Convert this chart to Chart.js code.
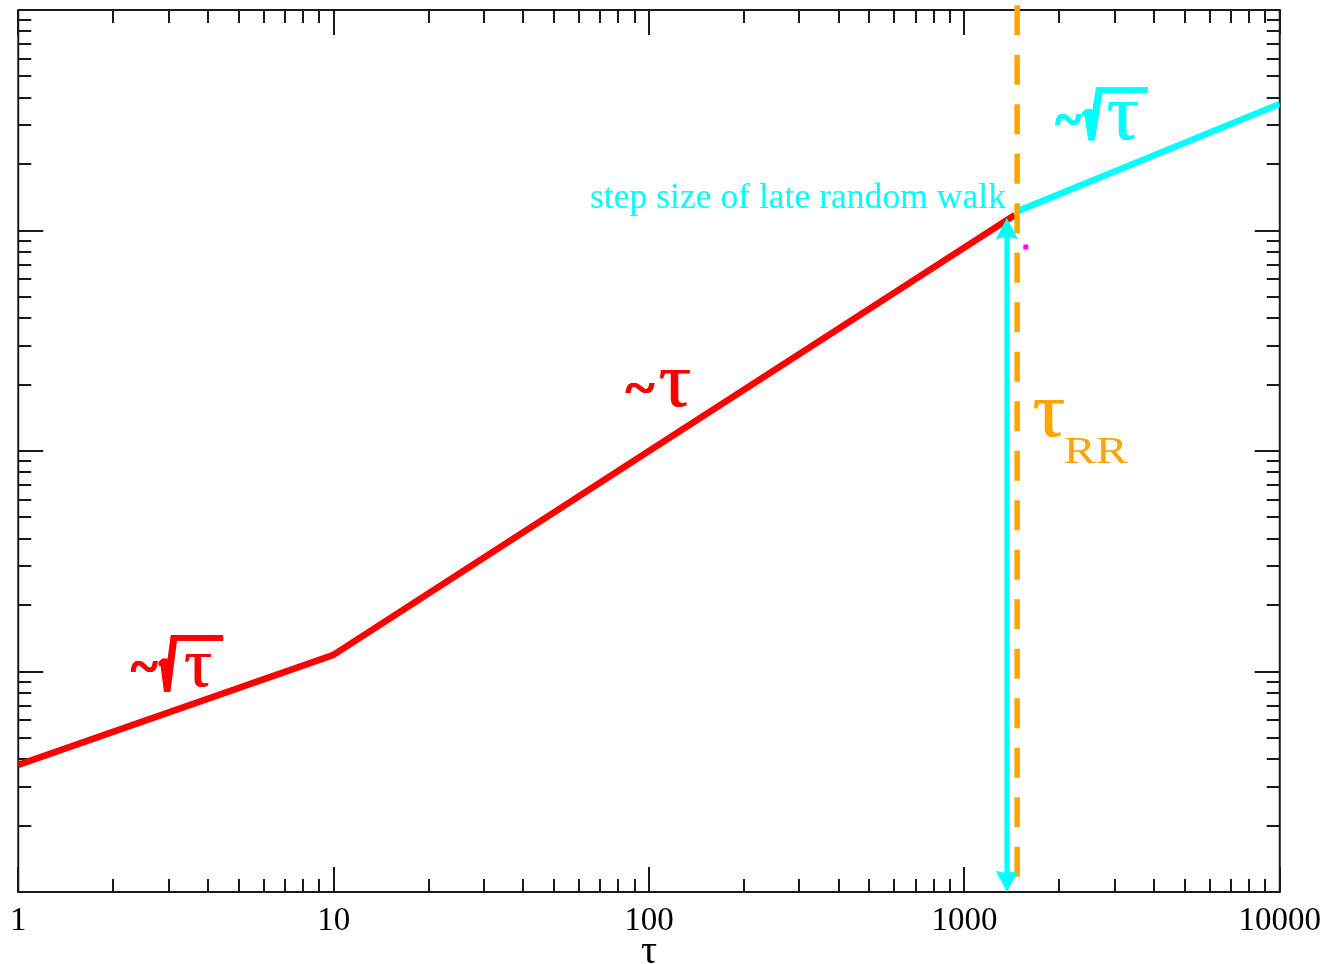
<!DOCTYPE html>
<html>
<head>
<meta charset="utf-8">
<script src="https://cdn.jsdelivr.net/npm/chart.js@4/dist/chart.umd.min.js"></script>
<style>
  html, body { margin: 0; padding: 0; background: #ffffff; }
  #wrap { width: 1331px; height: 964px; }
</style>
</head>
<body>
<div id="wrap"><canvas id="c" width="1331" height="964"></canvas></div>
<script>
// Early regime: ~sqrt(tau) up to tau = 10, then ~tau up to tau_RR
const earlyTau   = [1, 10, 100, 1445];
const earlyValue = [0.0377, 0.119, 1.0, 11.75];

// Late random walk: ~sqrt(tau) again
const lateTau   = [1479, 10000];
const lateValue = [12.25, 37.5];

// Crossover time tau_RR (dashed marker) and its vertical extent
const tauRR     = [1470, 1470];
const tauRRSpan = [105, 0.0117];

// Step size of the late random walk (double arrow)
const stepTau  = [1364, 1364];
const stepSpan = [11.4, 0.01];

// Single marker point
const markTau   = [1566];
const markValue = [8.41];

// Axis ticks
const xTickValues = [1, 10, 100, 1000, 10000];
const xTickLabels = ['1', '10', '100', '1000', '10000'];
const yDecades    = [0.01, 0.1, 1, 10, 100];
const axisTitle   = 'τ';

// Label texts and their anchors (tau, value) at the left end of the baseline
const labelTexts  = ['~√τ', '~τ', '~√τ', 'step size of late random walk', 'τRR'];
const labelTau    = [2.265, 83.9, 1936, 65.0, 1660];
const labelValue  = [0.0851, 1.58, 25.7, 12.6, 1.157];
const labelColors = ['#ff0000', '#ff0000', '#00ffff', '#00ffff', '#ffa500'];

const SERIF = '"Liberation Serif", "Times New Roman", serif';
const SANS  = '"DejaVu Sans", sans-serif';

// Glyph boxes for each label, in px relative to its anchor:
// [text, dx, dy, w, h, weight, family, extra horizontal weight in px]
const glyphLayouts = [
  [['~', 0, -26, 28, 11, 'bold', SERIF, 1.5], ['√', 28, -52, 20, 57, 'bold', SANS, 5],
   ['τ', 55, -33, 26, 33, '', SERIF, 1], ['bar', 45, -52, 48, 6]],
  [['~', 0, -24, 30, 10, 'bold', SERIF, 1.5], ['τ', 35, -37, 30, 37, '', SERIF, 1]],
  [['~', 0, -26, 27, 11, 'bold', SERIF, 1.5], ['√', 27, -53, 22, 53, 'bold', SANS, 5],
   ['τ', 53, -38, 30, 38, '', SERIF, 1], ['bar', 46, -53, 47, 6]],
  null,
  [['τ', 0, -37, 30, 37, '', SERIF, 1], ['RR', 31, 1, 63, 25, '', SERIF, 0]]
];

function pairs(xs, ys) { return xs.map((v, i) => ({ x: v, y: ys[i] })); }

function minorTicks(decades) {
  const out = [];
  for (let i = 0; i < decades.length; i++) {
    out.push({ v: decades[i], major: true });
    if (i < decades.length - 1) {
      for (let m = 2; m <= 9; m++) out.push({ v: decades[i] * m, major: false });
    }
  }
  return out;
}

// draws a glyph run stretched so that its ink fills the given box;
// 'heavy' widens the strokes by repeating the glyph shifted sideways
function glyphBox(ctx, text, left, top, w, h, weight, family, heavy) {
  ctx.font = (weight || '') + ' 100px ' + family;
  const m = ctx.measureText(text);
  const gw = (m.actualBoundingBoxLeft + m.actualBoundingBoxRight) || 50;
  const gh = (m.actualBoundingBoxAscent + m.actualBoundingBoxDescent) || 50;
  const extra = heavy || 0;
  const steps = Math.max(1, Math.ceil(extra * 2));
  for (let k = 0; k <= (extra ? steps : 0); k++) {
    ctx.save();
    ctx.translate(left + (extra ? extra * k / steps : 0), top);
    ctx.scale((w - extra) / gw, h / gh);
    ctx.fillText(text, m.actualBoundingBoxLeft, m.actualBoundingBoxAscent);
    ctx.restore();
  }
}

// Boxed frame with inward ticks on all four sides
const framePlugin = {
  id: 'frame',
  beforeDatasetsDraw(chart) {
    const { ctx, chartArea: a, scales: { x, y } } = chart;
    ctx.save();
    ctx.strokeStyle = '#1a1a1a';
    ctx.lineWidth = 2;
    ctx.beginPath();
    minorTicks(xTickValues).forEach(t => {
      const px = Math.round(x.getPixelForValue(t.v));
      const L = t.major ? 25 : 13;
      ctx.moveTo(px, a.bottom); ctx.lineTo(px, a.bottom - L);
      ctx.moveTo(px, a.top); ctx.lineTo(px, a.top + L);
    });
    minorTicks(yDecades).forEach(t => {
      const py = Math.round(y.getPixelForValue(t.v));
      const L = t.major ? 25 : 13;
      ctx.moveTo(a.left, py); ctx.lineTo(a.left + L, py);
      ctx.moveTo(a.right, py); ctx.lineTo(a.right - L, py);
    });
    ctx.stroke();
    ctx.strokeRect(a.left, a.top, a.right - a.left, a.bottom - a.top);
    ctx.restore();
  }
};

// Double-headed arrow for the step size
const arrowPlugin = {
  id: 'arrow',
  afterDatasetsDraw(chart) {
    const { ctx, scales: { x, y } } = chart;
    const px = x.getPixelForValue(stepTau[0]);
    const top = y.getPixelForValue(stepSpan[0]);
    const bot = y.getPixelForValue(stepSpan[1]);
    const headL = 21, headW = 11, notch = 2;
    ctx.save();
    ctx.strokeStyle = '#00ffff';
    ctx.fillStyle = '#00ffff';
    ctx.lineWidth = 5;
    ctx.beginPath();
    ctx.moveTo(px, top + headL - 2);
    ctx.lineTo(px, bot - headL + 2);
    ctx.stroke();
    [[top, 1], [bot, -1]].forEach(([tip, d]) => {
      ctx.beginPath();
      ctx.moveTo(px, tip);
      ctx.lineTo(px + headW, tip + d * headL);
      ctx.lineTo(px, tip + d * (headL - notch));
      ctx.lineTo(px - headW, tip + d * headL);
      ctx.closePath();
      ctx.fill();
    });
    ctx.restore();
  }
};

// Scaling-law and crossover labels
const labelsPlugin = {
  id: 'labels',
  afterDraw(chart) {
    const { ctx, scales: { x, y } } = chart;
    ctx.save();
    ctx.textBaseline = 'alphabetic';
    ctx.textAlign = 'left';
    labelTexts.forEach((text, i) => {
      const px = x.getPixelForValue(labelTau[i]);
      const py = y.getPixelForValue(labelValue[i]);
      ctx.fillStyle = labelColors[i];
      const parts = glyphLayouts[i];
      if (!parts) {
        ctx.font = '35.6px ' + SERIF;
        ctx.fillText(text, px, py);
        return;
      }
      parts.forEach(([g, dx, dy, w, h, weight, family, heavy]) => {
        if (g === 'bar') ctx.fillRect(px + dx, py + dy, w, h);
        else glyphBox(ctx, g, px + dx, py + dy, w, h, weight, family, heavy);
      });
    });
    ctx.restore();
  }
};

new Chart(document.getElementById('c'), {
  type: 'line',
  data: {
    datasets: [
      { label: 'early', data: pairs(earlyTau, earlyValue), borderColor: '#ff0000', borderWidth: 6.5,
        pointRadius: 0, tension: 0, order: 4, borderJoinStyle: 'round' },
      { label: 'late', data: pairs(lateTau, lateValue), borderColor: '#00ffff', borderWidth: 6.5,
        pointRadius: 0, tension: 0, order: 3 },
      { label: 'tauRR', data: pairs(tauRR, tauRRSpan), borderColor: '#ffa500', borderWidth: 5.5,
        borderDash: [30, 19.5], borderCapStyle: 'butt', pointRadius: 0, clip: false, order: 2 },
      { label: 'mark', data: pairs(markTau, markValue), showLine: false, pointStyle: 'rect',
        pointRadius: 3.5, pointBackgroundColor: '#ff00ff', pointBorderWidth: 0, order: 1 }
    ]
  },
  options: {
    responsive: false,
    animation: false,
    devicePixelRatio: 1,
    layout: { padding: { left: 18, right: 51, top: 10, bottom: 0 } },
    plugins: { legend: { display: false }, tooltip: { enabled: false } },
    scales: {
      x: {
        type: 'logarithmic',
        min: 1, max: 10000,
        grid: { display: false, drawTicks: false },
        border: { display: false },
        afterBuildTicks(s) { s.ticks = xTickValues.map(v => ({ value: v })); },
        afterFit(s) { s.height = 72; },
        ticks: {
          autoSkip: false, maxRotation: 0, padding: 10, color: '#000000',
          font: { family: SERIF, size: 33 },
          callback(v) { const i = xTickValues.indexOf(v); return i >= 0 ? xTickLabels[i] : null; }
        },
        title: { display: true, text: axisTitle, color: '#000000',
                 font: { family: SERIF, size: 40, lineHeight: 0.6 }, padding: { top: 0, bottom: 0 } }
      },
      y: {
        type: 'logarithmic',
        min: 0.01, max: 100,
        display: false
      }
    }
  },
  plugins: [framePlugin, arrowPlugin, labelsPlugin]
});
</script>
</body>
</html>
